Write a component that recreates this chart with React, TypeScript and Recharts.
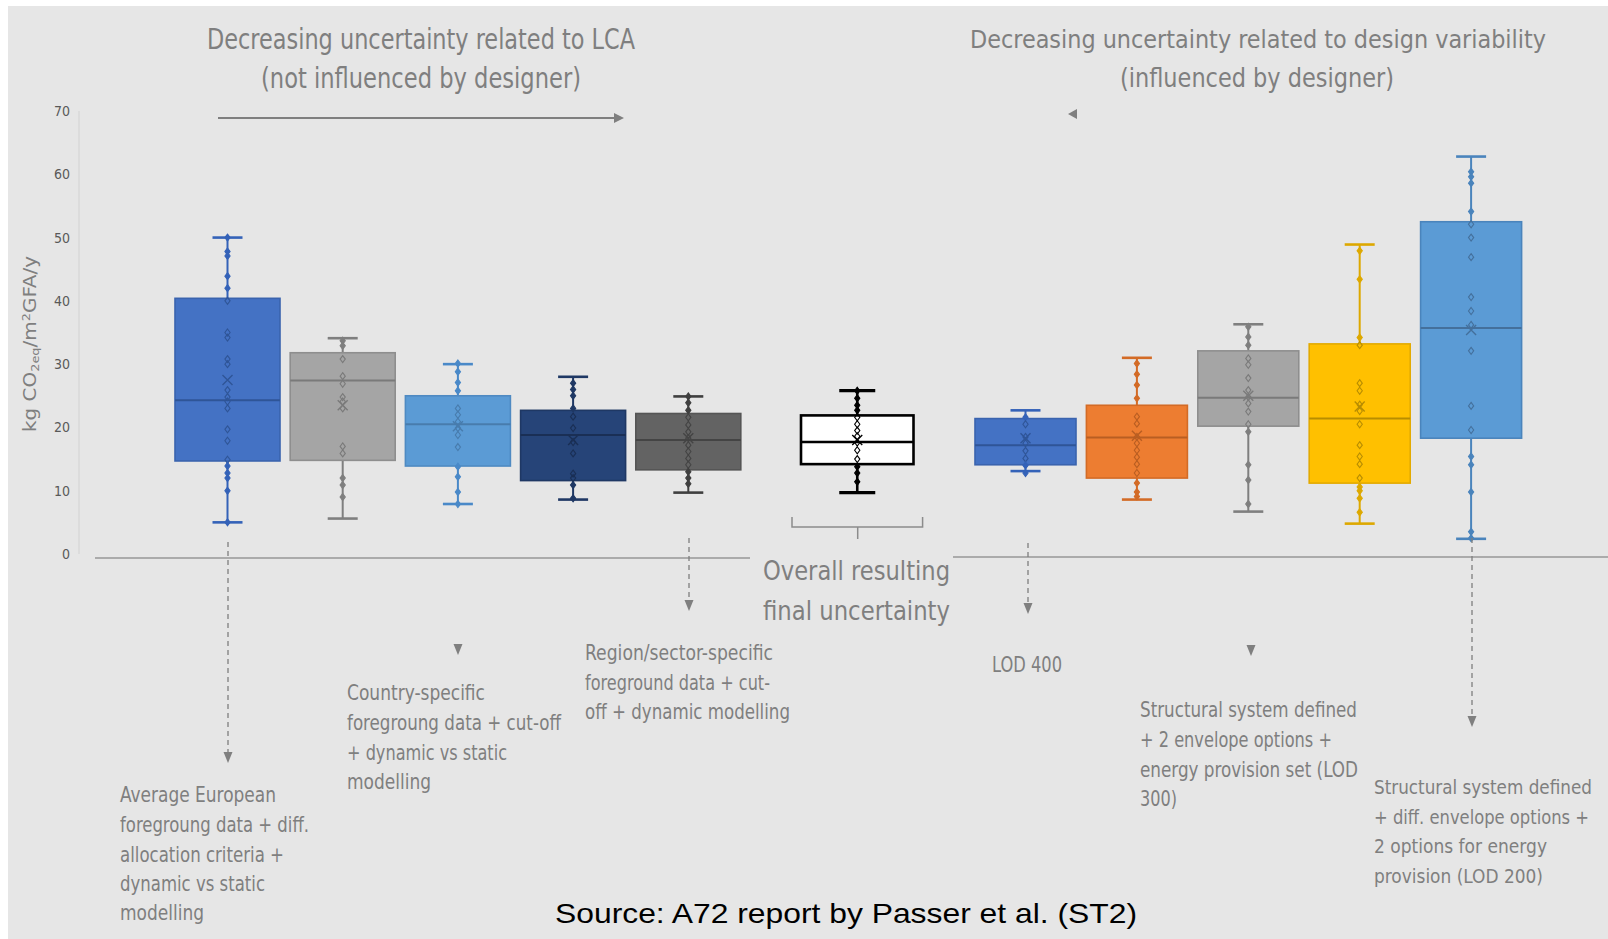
import { Bar, ComposedChart, XAxis, YAxis } from "recharts"

// categories per panel
const lcaNames = ["LCA-1", "LCA-2", "LCA-3", "LCA-4", "LCA-5"]
const overallNames = ["Overall"]
const designNames = ["LOD 400", "Design-2", "LOD 300", "Design-4", "LOD 200"]

// box statistics (kg CO2eq/m2GFA/y)
const lcaMin = [5.0, 5.6, 7.9, 8.6, 9.7]
const lcaQ1 = [14.7, 14.8, 13.9, 11.6, 13.3]
const lcaMedian = [24.3, 27.4, 20.5, 18.8, 18.0]
const lcaQ3 = [40.4, 31.8, 25.0, 22.7, 22.2]
const lcaMax = [50.0, 34.1, 30.0, 28.0, 24.9]
const lcaMean = [27.5, 23.5, 20.2, 18.0, 18.3]

const overallMin = [9.7]
const overallQ1 = [14.2]
const overallMedian = [17.7]
const overallQ3 = [21.9]
const overallMax = [25.8]
const overallMean = [18.0]

const designMin = [13.1, 8.6, 6.7, 4.8, 2.4]
const designQ1 = [14.1, 12.0, 20.2, 11.2, 18.3]
const designMedian = [17.2, 18.4, 24.7, 21.4, 35.7]
const designQ3 = [21.4, 23.5, 32.1, 33.2, 52.5]
const designMax = [22.7, 31.0, 36.3, 48.9, 62.8]
const designMean = [18.3, 18.7, 25.0, 23.3, 35.4]

// individual results shown as small markers
const lcaPoints = [
    [50, 47.8, 47.1, 43.9, 42, 40, 35, 34.2, 30.8, 30, 25.9, 24.8, 24.1, 23, 19.7, 17.9, 14.9, 13.9, 12.8, 12, 10, 5],
    [33.7, 32.9, 30.8, 28.1, 26.9, 24.8, 24.1, 23.0, 17.0, 15.9, 12.0, 10.9, 9.0],
    [30.1, 28.8, 27.1, 25.8, 23.0, 22.0, 20.9, 19.9, 18.8, 16.9, 13.8, 12.2, 9.8, 7.9],
    [27.0, 26.0, 25.0, 23.0, 21.7, 19.9, 17.7, 15.9, 12.7, 12.0, 10.9, 8.8],
    [24.9, 23.9, 22.7, 21.6, 20.4, 19.3, 18.3, 17.2, 16.2, 15.1, 14.1, 13.0, 12.0, 11.1],
]
const overallPoints = [
    [25.8, 24.6, 23.5, 22.7, 21.6, 20.5, 19.5, 18.6, 17.6, 16.4, 15.0, 13.8, 12.8, 11.4],
]
const designPoints = [
    [21.6, 20.5, 18.5, 17.5, 16.3, 15.1, 14.0, 12.8],
    [30.1, 28.4, 26.7, 24.6, 21.7, 20.6, 18.5, 17.5, 16.4, 15.3, 14.2, 12.8, 11.2, 9.8, 9.1],
    [35.9, 34.3, 33.0, 30.9, 29.9, 27.8, 25.9, 24.8, 23.8, 22.5, 20.5, 19.3, 14.1, 11.7, 7.9],
    [47.9, 43.4, 34.2, 33.0, 27.0, 25.8, 23.6, 22.6, 20.5, 17.2, 15.4, 14.2, 12.0, 10.6, 10.0, 8.8, 6.6],
    [60.4, 59.6, 58.6, 54.1, 52.1, 50.0, 46.9, 40.6, 38.4, 36.2, 32.1, 23.4, 19.6, 15.4, 14.1, 9.8, 3.5, 2.5],
]

const yTicks = [0, 10, 20, 30, 40, 50, 60, 70]

const STYLES: Record<string, any> = {
    "LCA-1": { fill: "#4472C4", stroke: "#3A63AE", whisker: "#3462B8", median: "#2F5597", cap: 30 },
    "LCA-2": { fill: "#A5A5A5", stroke: "#8E8E8E", whisker: "#7F7F7F", median: "#7A7A7A", cap: 30 },
    "LCA-3": { fill: "#5B9BD5", stroke: "#4F8AC2", whisker: "#4A89C8", median: "#487CAD", cap: 30 },
    "LCA-4": { fill: "#264478", stroke: "#1F3864", whisker: "#1F3864", median: "#1A2F55", cap: 30 },
    "LCA-5": { fill: "#636363", stroke: "#555555", whisker: "#3F3F3F", median: "#444444", cap: 30 },
    Overall: { fill: "#FFFFFF", stroke: "#000000", whisker: "#000000", median: "#000000", cap: 36, sw: 2.6 },
    "LOD 400": { fill: "#4472C4", stroke: "#3A63AE", whisker: "#3462B8", median: "#2F5597", cap: 30 },
    "Design-2": { fill: "#ED7D31", stroke: "#D36B26", whisker: "#D36B26", median: "#B95E22", cap: 30 },
    "LOD 300": { fill: "#A5A5A5", stroke: "#8E8E8E", whisker: "#7F7F7F", median: "#7A7A7A", cap: 30 },
    "Design-4": { fill: "#FFC000", stroke: "#E3AA00", whisker: "#DDA800", median: "#B88D00", cap: 30 },
    "LOD 200": { fill: "#5B9BD5", stroke: "#4A84BC", whisker: "#4A84BC", median: "#44709C", cap: 30 },
}

const buildRows = (names: string[], mins: number[], q1s: number[], meds: number[], q3s: number[], maxs: number[], means: number[], pts: number[][]) =>
    names.map((name, i) => ({
        name,
        range: [mins[i], maxs[i]],
        min: mins[i],
        q1: q1s[i],
        median: meds[i],
        q3: q3s[i],
        max: maxs[i],
        mean: means[i],
        points: pts[i],
    }))

const lcaRows = buildRows(lcaNames, lcaMin, lcaQ1, lcaMedian, lcaQ3, lcaMax, lcaMean, lcaPoints)
const overallRows = buildRows(overallNames, overallMin, overallQ1, overallMedian, overallQ3, overallMax, overallMean, overallPoints)
const designRows = buildRows(designNames, designMin, designQ1, designMedian, designQ3, designMax, designMean, designPoints)

const renderBox = (props: any) => {
    const { x, y, width, height, payload } = props
    const st = STYLES[payload.name]
    const sw = st.sw || 2
    const span = payload.max - payload.min
    const py = (v: number) => y + ((payload.max - v) / span) * height
    const cx = x + width / 2
    const half = st.cap / 2
    const top = py(payload.q3)
    const bottom = py(payload.q1)
    const my = py(payload.mean)
    return (
        <g>
            <line x1={cx} x2={cx} y1={py(payload.max)} y2={py(payload.min)} stroke={st.whisker} strokeWidth={sw} />
            <line x1={cx - half} x2={cx + half} y1={py(payload.max)} y2={py(payload.max)} stroke={st.whisker} strokeWidth={sw + 0.6} />
            <line x1={cx - half} x2={cx + half} y1={py(payload.min)} y2={py(payload.min)} stroke={st.whisker} strokeWidth={sw + 0.6} />
            <rect x={x} y={top} width={width} height={bottom - top} fill={st.fill} stroke={st.stroke} strokeWidth={st.sw || 1.6} />
            <line x1={x} x2={x + width} y1={py(payload.median)} y2={py(payload.median)} stroke={st.median} strokeWidth={st.sw || 2} />
            {payload.points.map((p: number, i: number) => {
                const yy = py(p)
                const inside = p > payload.q1 && p < payload.q3
                return (
                    <path
                        key={i}
                        d={`M${cx},${yy - 3.5} L${cx + 2.6},${yy} L${cx},${yy + 3.5} L${cx - 2.6},${yy} Z`}
                        fill={inside ? "none" : st.whisker}
                        stroke={inside ? st.median : st.whisker}
                        strokeWidth={1.1}
                    />
                )
            })}
            <path d={`M${cx - 5},${my - 5} L${cx + 5},${my + 5} M${cx + 5},${my - 5} L${cx - 5},${my + 5}`} stroke={st.median} strokeWidth={1.4} />
        </g>
    )
}

const NARROW = "'Liberation Sans Narrow', 'DejaVu Sans Condensed', 'Open Sans', sans-serif"
const GREY = "#7F7F7F"

const T = ({ x, y, w, size, children, fill = GREY, family = NARROW }: any) => (
    <text x={x} y={y} fontSize={size} fill={fill} fontFamily={family} textLength={w} lengthAdjust="spacingAndGlyphs">
        {children}
    </text>
)

const Arrow = ({ x, y1, y2 }: any) => (
    <g>
        {y2 > y1 + 2 && <line x1={x} x2={x} y1={y1} y2={y2} stroke="#7F7F7F" strokeWidth={1.3} strokeDasharray="5 4" />}
        <path d={`M${x - 4.5},${y2} L${x + 4.5},${y2} L${x},${y2 + 11} Z`} fill="#7F7F7F" />
    </g>
)

const chartBox = { position: "absolute" as const, left: 0, top: 0 }
const plotMargin = (left: number, right: number) => ({ top: 111, bottom: 385, left, right })

export default function App() {
    return (
        <div style={{ position: "absolute", left: 0, top: 0, width: 1608, height: 939, background: "#fff", overflow: "hidden" }}>
            <div style={{ position: "absolute", left: 8, top: 6, width: 1600, height: 933, background: "#E6E6E6" }} />

            {/* LCA-related uncertainty panel */}
            <div style={chartBox}>
                <ComposedChart width={1608} height={939} data={lcaRows} margin={plotMargin(0, 859)}>
                    <XAxis dataKey="name" hide padding={{ left: 91, right: 3 }} />
                    <YAxis
                        domain={[0, 70]}
                        ticks={yTicks}
                        width={79}
                        tickLine={false}
                        tickSize={6}
                        tickMargin={3}
                        axisLine={{ stroke: "#D2D2D2", strokeWidth: 1 }}
                        tick={{ fill: "#595959", fontSize: 14, fontFamily: NARROW }}
                    />
                    <Bar dataKey="range" barSize={105} shape={renderBox} isAnimationActive={false} />
                </ComposedChart>
            </div>

            {/* overall result */}
            <div style={chartBox}>
                <ComposedChart width={1608} height={939} data={overallRows} margin={plotMargin(795, 688)}>
                    <XAxis dataKey="name" hide />
                    <YAxis hide domain={[0, 70]} />
                    <Bar dataKey="range" barSize={125} shape={renderBox} isAnimationActive={false} />
                </ComposedChart>
            </div>

            {/* design variability panel */}
            <div style={chartBox}>
                <ComposedChart width={1608} height={939} data={designRows} margin={plotMargin(970, 81)}>
                    <XAxis dataKey="name" hide />
                    <YAxis hide domain={[0, 70]} />
                    <Bar dataKey="range" barSize={101} shape={renderBox} isAnimationActive={false} />
                </ComposedChart>
            </div>

            <svg width={1608} height={939} style={{ position: "absolute", left: 0, top: 0, pointerEvents: "none" }}>
                <text
                    transform="translate(36,344) rotate(-90)"
                    textAnchor="middle"
                    fontSize={17}
                    fill={GREY}
                    fontFamily={NARROW}
                    textLength={176}
                    lengthAdjust="spacingAndGlyphs"
                >
                    kg CO<tspan fontSize={11} dy={3}>2eq</tspan>
                    <tspan dy={-3}>/m</tspan>
                    <tspan fontSize={11} dy={-6}>2</tspan>
                    <tspan dy={6}>GFA/y</tspan>
                </text>

                <T x={207} y={49} w={428} size={28}>Decreasing uncertainty related to LCA</T>
                <T x={261} y={88} w={320} size={28}>(not influenced by designer)</T>
                <T x={970} y={48} w={576} size={25}>Decreasing uncertainty related to design variability</T>
                <T x={1120} y={87} w={274} size={27}>(influenced by designer)</T>

                <line x1={218} x2={614} y1={118} y2={118} stroke="#7F7F7F" strokeWidth={2} />
                <path d="M614,113 L624,118 L614,123 Z" fill="#7F7F7F" />
                <path d="M1077,109 L1068,114 L1077,119 Z" fill="#7F7F7F" />

                <line x1={95} x2={750} y1={558} y2={558} stroke="#ABABAB" strokeWidth={2} />
                <line x1={953} x2={1608} y1={557} y2={557} stroke="#ABABAB" strokeWidth={2} />

                <path d="M792,517 L792,527 L922.6,527 L922.6,517 M857.7,527 L857.7,539" fill="none" stroke="#8C8C8C" strokeWidth={1.5} />

                <Arrow x={228} y1={542} y2={752} />
                <Arrow x={458} y1={644} y2={644} />
                <Arrow x={689} y1={538} y2={600} />
                <Arrow x={1028} y1={543} y2={603} />
                <Arrow x={1251} y1={645} y2={645} />
                <Arrow x={1472} y1={538} y2={716} />

                <T x={763} y={580} w={187} size={27}>Overall resulting</T>
                <T x={763} y={620} w={187} size={27}>final uncertainty</T>

                <T x={120} y={802} w={156} size={21}>Average European</T>
                <T x={120} y={832} w={189} size={21}>foregroung data + diff.</T>
                <T x={120} y={862} w={164} size={21}>allocation criteria +</T>
                <T x={120} y={891} w={145} size={21}>dynamic vs static</T>
                <T x={120} y={920} w={84} size={21}>modelling</T>

                <T x={347} y={700} w={138} size={21}>Country-specific</T>
                <T x={347} y={730} w={214} size={21}>foregroung data + cut-off</T>
                <T x={347} y={760} w={160} size={21}>+ dynamic vs static</T>
                <T x={347} y={789} w={84} size={21}>modelling</T>

                <T x={585} y={660} w={188} size={21}>Region/sector-specific</T>
                <T x={585} y={690} w={185} size={21}>foreground data + cut-</T>
                <T x={585} y={719} w={205} size={21}>off + dynamic modelling</T>

                <T x={992} y={672} w={70} size={21}>LOD 400</T>

                <T x={1140} y={717} w={217} size={21}>Structural system defined</T>
                <T x={1140} y={747} w={192} size={21}>+ 2 envelope options +</T>
                <T x={1140} y={777} w={218} size={21}>energy provision set (LOD</T>
                <T x={1140} y={806} w={37} size={21}>300)</T>

                <T x={1374} y={794} w={218} size={19}>Structural system defined</T>
                <T x={1374} y={824} w={215} size={19}>+ diff. envelope options +</T>
                <T x={1374} y={853} w={173} size={20}>2 options for energy</T>
                <T x={1374} y={883} w={169} size={20}>provision (LOD 200)</T>

                <T x={555} y={923} w={582} size={28} fill="#000000" family="'Liberation Sans', Arial, sans-serif">
                    Source: A72 report by Passer et al. (ST2)
                </T>
            </svg>
        </div>
    )
}
